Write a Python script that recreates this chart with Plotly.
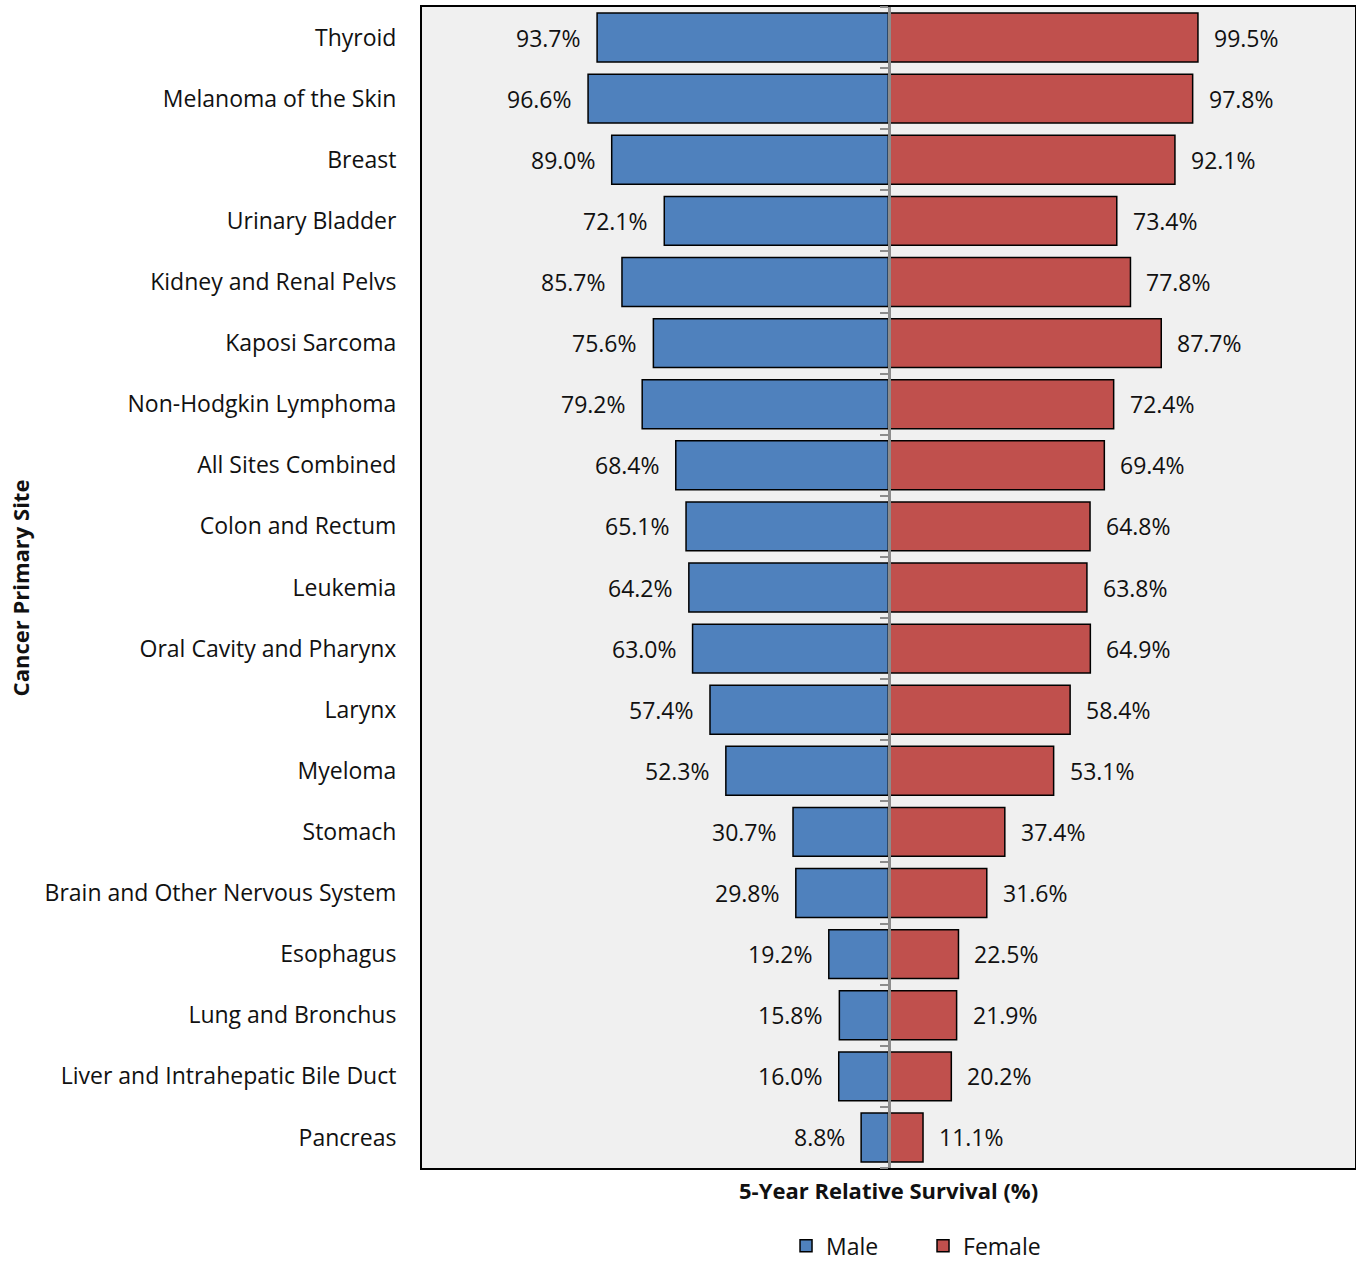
import plotly.graph_objects as go

# Cancer sites, top to bottom
sites = [
    "Thyroid", "Melanoma of the Skin", "Breast", "Urinary Bladder",
    "Kidney and Renal Pelvs", "Kaposi Sarcoma", "Non-Hodgkin Lymphoma",
    "All Sites Combined", "Colon and Rectum", "Leukemia",
    "Oral Cavity and Pharynx", "Larynx", "Myeloma", "Stomach",
    "Brain and Other Nervous System", "Esophagus", "Lung and Bronchus",
    "Liver and Intrahepatic Bile Duct", "Pancreas",
]

# 5-year relative survival (%)
male = [93.7, 96.6, 89.0, 72.1, 85.7, 75.6, 79.2, 68.4, 65.1, 64.2,
        63.0, 57.4, 52.3, 30.7, 29.8, 19.2, 15.8, 16.0, 8.8]
female = [99.5, 97.8, 92.1, 73.4, 77.8, 87.7, 72.4, 69.4, 64.8, 63.8,
          64.9, 58.4, 53.1, 37.4, 31.6, 22.5, 21.9, 20.2, 11.1]

BLUE = "#4F81BD"
RED = "#C0504D"
FONT = "Open Sans"
SIZE = 23
TITLE_SIZE = 22
TXT = "#111111"

fig = go.Figure()

fig.add_trace(go.Bar(
    name="Male", y=sites, x=[-v for v in male], orientation="h",
    marker=dict(color=BLUE, line=dict(color="black", width=1.5)),
    hoverinfo="skip",
))
fig.add_trace(go.Bar(
    name="Female", y=sites, x=female, orientation="h",
    marker=dict(color=RED, line=dict(color="black", width=1.5)),
    hoverinfo="skip",
))

# invisible helper so the centre axis (with boundary ticks) is drawn
fig.add_trace(go.Scatter(
    x=[0], y=[0], yaxis="y2", mode="markers",
    marker=dict(opacity=0), showlegend=False, hoverinfo="skip",
))

annotations = []
for s, m, f in zip(sites, male, female):
    annotations.append(dict(
        x=-m, y=s, text=f"{m:.1f}%", xanchor="right", xshift=-14,
        showarrow=False, font=dict(family=FONT, size=SIZE, color=TXT),
    ))
    annotations.append(dict(
        x=f, y=s, text=f"{f:.1f}%", xanchor="left", xshift=14,
        showarrow=False, font=dict(family=FONT, size=SIZE, color=TXT),
    ))

annotations.append(dict(
    x=0.5, y=-0.0189, xref="paper", yref="paper", yanchor="middle",
    text="<b>5-Year Relative Survival (%)</b>", showarrow=False,
    font=dict(family=FONT, size=TITLE_SIZE, color=TXT),
))
annotations.append(dict(
    x=-0.431, y=0.5, xref="paper", yref="paper", xanchor="center",
    textangle=-90, text="<b>Cancer Primary Site</b>", showarrow=False,
    font=dict(family=FONT, size=TITLE_SIZE, color=TXT),
))

n = len(sites)
fig.update_layout(
    width=1356, height=1268,
    margin=dict(l=422, r=1, t=7, b=100, autoexpand=False),
    paper_bgcolor="white", plot_bgcolor="#F0F0F0",
    barmode="relative", bargap=0.2,
    font=dict(family=FONT, size=SIZE, color=TXT),
    showlegend=True,
    legend=dict(
        orientation="h", x=0.537, xanchor="center", y=-0.0855,
        yanchor="bottom",
        font=dict(family=FONT, size=SIZE, color=TXT),
        traceorder="normal", entrywidth=92,
    ),
    xaxis=dict(
        range=[-150, 150], showticklabels=False, showgrid=False,
        zeroline=False, showline=True, mirror=True,
        linecolor="black", linewidth=2, ticks="", fixedrange=True,
    ),
    yaxis=dict(
        categoryorder="array", categoryarray=sites,
        range=[n - 0.5, -0.5], showgrid=False, zeroline=False,
        showline=True, mirror=True, linecolor="black", linewidth=2,
        ticks="outside", ticklen=19, tickcolor="rgba(0,0,0,0)",
        tickfont=dict(family=FONT, size=SIZE, color=TXT),
    ),
    yaxis2=dict(
        overlaying="y", anchor="free", position=0.5, side="left",
        range=[n - 0.5, -0.5], tickmode="array",
        tickvals=[i - 0.5 for i in range(n + 1)],
        ticks="outside", ticklen=8, tickwidth=2, tickcolor="#8C8C8C",
        showticklabels=False, showgrid=False, zeroline=False,
        showline=True, linecolor="#8C8C8C", linewidth=2.5,
    ),
    annotations=annotations,
)

fig.write_html("out.html")
